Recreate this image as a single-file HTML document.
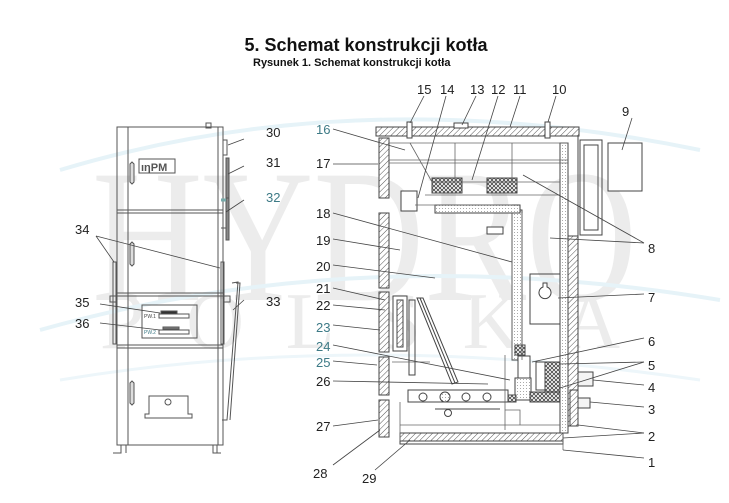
<!DOCTYPE html>
<html><head><meta charset="utf-8"><style>
html,body{margin:0;padding:0;background:#fff;width:729px;height:503px;overflow:hidden}
svg{display:block}
.t{font-family:"Liberation Sans",sans-serif;font-size:13px;fill:#222}
.b{fill:#3d7a86}
</style></head><body>
<svg width="729" height="503" viewBox="0 0 729 503" xmlns="http://www.w3.org/2000/svg">
<defs>
<pattern id="h" width="4" height="4" patternUnits="userSpaceOnUse" patternTransform="rotate(45)">
<rect width="4" height="4" fill="#fff"/><line x1="0" y1="0" x2="0" y2="4" stroke="#555" stroke-width="1"/></pattern>
<pattern id="x" width="4" height="4" patternUnits="userSpaceOnUse">
<rect width="4" height="4" fill="#fff"/><path d="M0 0L4 4M4 0L0 4" stroke="#444" stroke-width="0.8"/></pattern>
<pattern id="d" width="3" height="3" patternUnits="userSpaceOnUse">
<rect width="3" height="3" fill="#fff"/><rect x="1" y="1" width="1" height="1" fill="#aaa"/></pattern>
</defs>
<!-- watermark -->
<g font-family="Liberation Serif,serif" fill="#ececec">
<text x="92" y="300" font-size="190" textLength="545" lengthAdjust="spacingAndGlyphs">HYDRO</text>
<text x="100" y="348" font-size="80" textLength="520" lengthAdjust="spacing">POLSKA</text>
</g>
<path d="M60 170 Q360 80 700 150" stroke="#e6f3f8" stroke-width="4" fill="none"/>
<path d="M40 330 Q360 240 720 300" stroke="#e6f3f8" stroke-width="4" fill="none"/>
<path d="M60 380 Q360 330 700 380" stroke="#edf6fa" stroke-width="3" fill="none"/>

<text x="366" y="51" text-anchor="middle" font-family="Liberation Sans,sans-serif" font-weight="bold" font-size="18" fill="#111">5. Schemat konstrukcji kotła</text>
<text x="253" y="66" font-family="Liberation Sans,sans-serif" font-weight="bold" font-size="11" fill="#111">Rysunek 1. Schemat konstrukcji kotła</text>

<!-- LEFT BOILER -->
<g stroke="#555" stroke-width="1" fill="none">
<rect x="117" y="127" width="106" height="318"/>
<line x1="128" y1="127" x2="128" y2="445"/>
<line x1="218" y1="127" x2="218" y2="445"/>
<line x1="117" y1="210" x2="223" y2="210"/><line x1="117" y1="213" x2="223" y2="213"/>
<line x1="117" y1="293" x2="223" y2="293"/><line x1="117" y1="296" x2="223" y2="296"/>
<line x1="117" y1="345" x2="223" y2="345"/><line x1="117" y1="348" x2="223" y2="348"/>
<rect x="206" y="123" width="5" height="5"/>
<rect x="223" y="140" width="4" height="15"/>
<rect x="226" y="158" width="3" height="42" fill="#888"/>
<rect x="226" y="198" width="3" height="42" fill="#888"/>
<line x1="221" y1="200" x2="226" y2="200" stroke-width="3" stroke="#7aa"/>
<line x1="221" y1="228" x2="226" y2="228"/>
<rect x="221" y="262" width="3" height="82"/>
<rect x="113" y="262" width="3" height="82"/>
<rect x="110" y="296" width="7" height="6"/><rect x="223" y="296" width="7" height="6"/>
<path d="M232 283 L238 282 L227 420 L222 420" />
<path d="M236 283 L240 283 L230 420"/>
<rect x="139" y="159" width="36" height="14"/>
<text x="141" y="171" font-family="Liberation Sans,sans-serif" font-size="11" fill="#555" stroke="none" font-weight="bold">ıηPM</text>
<path d="M132 162 l-2 2 v18 l2 2 l2 -2 v-18 z" fill="#ddd"/>
<path d="M132 242 l-2 2 v20 l2 2 l2 -2 v-20 z" fill="#ddd"/>
<path d="M132 381 l-2 2 v20 l2 2 l2 -2 v-20 z" fill="#ddd"/>
<rect x="142" y="305" width="55" height="33"/>
<rect x="159" y="314" width="30" height="4"/><rect x="161" y="311" width="16" height="3" fill="#333"/>
<rect x="159" y="330" width="30" height="4"/><rect x="163" y="327" width="16" height="2" fill="#888"/>
<text x="144" y="318" font-family="Liberation Sans,sans-serif" font-size="5" fill="#444" stroke="none">PW.1</text>
<text x="144" y="334" font-family="Liberation Sans,sans-serif" font-size="5" fill="#3d7a86" stroke="none">PW.2</text>
<path d="M149 396 v18 h-4 v4 h47 v-4 h-4 v-18 z"/>
<circle cx="168" cy="402" r="3"/>
<path d="M121 445 v8 h-8 M126 445 v8 M213 445 v8 h8 M217 445 v8"/>
</g>
<g stroke="#444" stroke-width="0.8">
<line x1="244" y1="139" x2="228" y2="145"/>
<line x1="244" y1="166" x2="228" y2="174"/>
<line x1="244" y1="200" x2="226" y2="212"/>
<line x1="96" y1="236" x2="114" y2="262"/><line x1="96" y1="236" x2="220" y2="268"/>
<line x1="244" y1="300" x2="233" y2="310"/>
<line x1="100" y1="304" x2="160" y2="313"/>
<line x1="100" y1="323" x2="160" y2="330"/>
</g>
<text class="t" x="266" y="137">30</text>
<text class="t" x="266" y="167">31</text>
<text class="t b" x="266" y="202">32</text>
<text class="t" x="75" y="234">34</text>
<text class="t" x="266" y="306">33</text>
<text class="t" x="75" y="307">35</text>
<text class="t" x="75" y="328">36</text>

<!-- RIGHT BOILER -->
<g stroke="#444" stroke-width="1">
<rect x="376" y="127" width="203" height="9" fill="url(#h)"/>
<rect x="407" y="122" width="5" height="16" fill="#fff"/>
<rect x="454" y="123" width="14" height="5" fill="#fff"/>
<rect x="545" y="122" width="5" height="16" fill="#fff"/>
<rect x="568" y="236" width="10" height="190" fill="url(#h)"/>
<line x1="578" y1="136" x2="578" y2="236"/>
<rect x="560" y="143" width="8" height="290" fill="url(#d)"/>
<rect x="379" y="138" width="10" height="60" fill="url(#h)"/>
<rect x="379" y="213" width="10" height="75" fill="url(#h)"/>
<rect x="379" y="292" width="10" height="60" fill="url(#h)"/>
<rect x="379" y="357" width="10" height="38" fill="url(#h)"/>
<rect x="379" y="400" width="10" height="37" fill="url(#h)"/>
<rect x="400" y="433" width="163" height="8" fill="url(#h)"/>
<rect x="400" y="441" width="163" height="3" fill="#fff"/>
<rect x="570" y="390" width="8" height="36" fill="url(#h)"/>
<rect x="512" y="210" width="10" height="150" fill="url(#d)"/>
<rect x="435" y="205" width="85" height="8" fill="url(#d)"/>
<rect x="432" y="178" width="30" height="15" fill="url(#x)"/>
<rect x="487" y="178" width="30" height="15" fill="url(#x)"/>
<rect x="515" y="345" width="10" height="10" fill="url(#x)"/>
<rect x="518" y="356" width="12" height="22" fill="#fff"/>
<rect x="515" y="378" width="16" height="22" fill="url(#d)"/>
<rect x="502" y="395" width="14" height="7" fill="url(#x)"/>
<rect x="530" y="392" width="30" height="10" fill="url(#x)"/>
<rect x="545" y="362" width="15" height="30" fill="url(#x)"/>
<rect x="536" y="362" width="9" height="28" fill="#fff"/>
<rect x="578" y="372" width="15" height="14" fill="#f4f4f4"/>
<rect x="578" y="398" width="12" height="10" fill="#f4f4f4"/>
<rect x="580" y="140" width="22" height="95" fill="none"/>
<rect x="584" y="145" width="14" height="85" fill="none"/>
<rect x="608" y="143" width="34" height="48" fill="#fff"/>
<rect x="530" y="274" width="30" height="50" fill="none"/>
<path d="M543 287 a6 6 0 1 0 4 0 v-4 h-4 z" fill="#fff"/>
<rect x="487" y="227" width="16" height="7" fill="#fff"/>
<rect x="401" y="191" width="16" height="20" fill="#fff"/>
<rect x="393" y="296" width="14" height="55" fill="#fff"/>
<rect x="397" y="300" width="6" height="47" fill="url(#h)"/>
<path d="M409 300 h6 v75 h-6 z" fill="none"/>
<path d="M417 298 L423 298 L458 382 L452 384 Z" fill="#fff"/>
<path d="M420 298 L455 383" fill="none"/>
<rect x="408" y="390" width="100" height="12" fill="#fff"/>
<circle cx="423" cy="397" r="4" fill="#fff"/><circle cx="445" cy="397" r="5" fill="url(#d)"/>
<circle cx="466" cy="397" r="4" fill="#fff"/><circle cx="487" cy="397" r="4" fill="#fff"/>
<circle cx="448" cy="413" r="3.5" fill="#fff"/>
<line x1="435" y1="409" x2="500" y2="409"/>
</g>
<g stroke="#666" stroke-width="0.8" fill="none">
<line x1="389" y1="143" x2="568" y2="143"/>
<line x1="389" y1="160" x2="568" y2="160"/><line x1="389" y1="163" x2="568" y2="163"/>
<path d="M410 143 L432 182 L560 182"/>
<line x1="455" y1="143" x2="455" y2="182"/><line x1="512" y1="143" x2="512" y2="182"/>
<line x1="425" y1="195" x2="560" y2="195"/>
<path d="M415 205 L512 205"/>
<path d="M522 213 V360 M512 213 V360"/>
<line x1="505" y1="355" x2="505" y2="430"/>
<path d="M505 410 h15 v15"/>
<line x1="392" y1="362" x2="430" y2="362"/>
<line x1="400" y1="402" x2="400" y2="441"/>
<line x1="563" y1="433" x2="563" y2="450"/>
<line x1="400" y1="425" x2="560" y2="425"/>
</g>
<!-- leaders -->
<g stroke="#444" stroke-width="0.8">
<line x1="424" y1="96" x2="410" y2="123"/>
<line x1="446" y1="96" x2="418" y2="198"/>
<line x1="476" y1="96" x2="462" y2="125"/>
<line x1="498" y1="96" x2="472" y2="180"/>
<line x1="520" y1="96" x2="510" y2="127"/>
<line x1="556" y1="96" x2="548" y2="122"/>
<line x1="632" y1="118" x2="622" y2="150"/>
<line x1="333" y1="129" x2="405" y2="150"/>
<line x1="333" y1="164" x2="378" y2="164"/>
<line x1="333" y1="213" x2="512" y2="262"/>
<line x1="333" y1="239" x2="400" y2="250"/>
<line x1="333" y1="265" x2="435" y2="278"/>
<line x1="333" y1="288" x2="385" y2="300"/>
<line x1="333" y1="305" x2="385" y2="310"/>
<line x1="333" y1="325" x2="380" y2="330"/>
<line x1="333" y1="345" x2="510" y2="380"/>
<line x1="333" y1="361" x2="377" y2="365"/>
<line x1="333" y1="381" x2="488" y2="384"/>
<line x1="333" y1="426" x2="378" y2="420"/>
<line x1="333" y1="465" x2="380" y2="430"/>
<line x1="375" y1="470" x2="410" y2="440"/>
<line x1="644" y1="243" x2="523" y2="175"/>
<line x1="644" y1="243" x2="550" y2="238"/>
<line x1="644" y1="294" x2="558" y2="298"/>
<line x1="644" y1="338" x2="532" y2="362"/>
<line x1="644" y1="362" x2="560" y2="364"/>
<line x1="644" y1="362" x2="560" y2="388"/>
<line x1="644" y1="385" x2="593" y2="380"/>
<line x1="644" y1="407" x2="590" y2="402"/>
<line x1="644" y1="433" x2="578" y2="425"/>
<line x1="644" y1="433" x2="563" y2="438"/>
<line x1="644" y1="458" x2="563" y2="450"/>
</g>
<text class="t" x="417" y="94">15</text>
<text class="t" x="440" y="94">14</text>
<text class="t" x="470" y="94">13</text>
<text class="t" x="491" y="94">12</text>
<text class="t" x="513" y="94">11</text>
<text class="t" x="552" y="94">10</text>
<text class="t" x="622" y="116">9</text>
<text class="t b" x="316" y="134">16</text>
<text class="t" x="316" y="168">17</text>
<text class="t" x="316" y="218">18</text>
<text class="t" x="316" y="245">19</text>
<text class="t" x="316" y="271">20</text>
<text class="t" x="316" y="293">21</text>
<text class="t" x="316" y="310">22</text>
<text class="t b" x="316" y="332">23</text>
<text class="t b" x="316" y="351">24</text>
<text class="t b" x="316" y="367">25</text>
<text class="t" x="316" y="386">26</text>
<text class="t" x="316" y="431">27</text>
<text class="t" x="313" y="478">28</text>
<text class="t" x="362" y="483">29</text>
<text class="t" x="648" y="253">8</text>
<text class="t" x="648" y="302">7</text>
<text class="t" x="648" y="346">6</text>
<text class="t" x="648" y="370">5</text>
<text class="t" x="648" y="392">4</text>
<text class="t" x="648" y="414">3</text>
<text class="t" x="648" y="441">2</text>
<text class="t" x="648" y="467">1</text>
</svg>
</body></html>
